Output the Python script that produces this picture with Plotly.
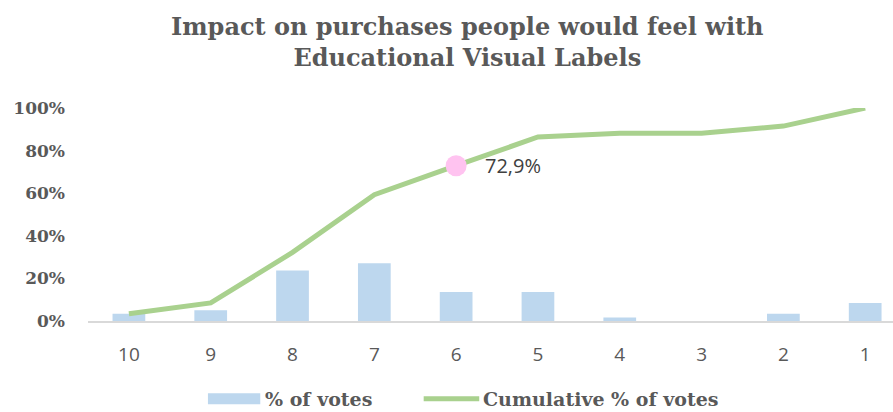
import plotly.graph_objects as go

# Survey scores (10 = strongest impact) and share of the 59 votes
scores = ["10", "9", "8", "7", "6", "5", "4", "3", "2", "1"]
pct_votes = [3.4, 5.1, 23.7, 27.1, 13.6, 13.6, 1.7, 0.0, 3.4, 8.5]
cum_pct_votes = [3.4, 8.5, 32.2, 59.3, 72.9, 86.4, 88.1, 88.1, 91.5, 100.0]
y_ticks = [0, 20, 40, 60, 80, 100]
y_tick_labels = ["0%", "20%", "40%", "60%", "80%", "100%"]
highlight_idx = 4
highlight_label = "72,9%"

SERIF = "DejaVu Serif"
SANS = "Open Sans"
GREY = "#595959"
BAR_COLOR = "#BDD7EE"
LINE_COLOR = "#A9D18E"

fig = go.Figure()
fig.add_trace(go.Bar(
    x=scores, y=pct_votes, name="% of votes",
    marker=dict(color=BAR_COLOR, line=dict(width=0)),
    width=0.4, showlegend=False,
))
fig.add_trace(go.Scatter(
    x=scores, y=cum_pct_votes, name="Cumulative % of votes",
    mode="lines", line=dict(color=LINE_COLOR, width=5),
    cliponaxis=False, showlegend=False,
))
fig.add_trace(go.Scatter(
    x=[scores[highlight_idx]], y=[cum_pct_votes[highlight_idx]],
    mode="markers", marker=dict(color="#FFC3F0", size=21),
    showlegend=False, cliponaxis=False,
))
# Data label next to the highlighted point (category axis: position by index)
fig.add_annotation(
    x=highlight_idx, y=cum_pct_votes[highlight_idx],
    text=highlight_label, showarrow=False,
    xanchor="left", yanchor="middle", xshift=27,
    font=dict(family=SANS, size=20, color="#404040"),
)

# Title
fig.add_annotation(
    xref="paper", yref="paper", x=0.4715, y=1.312,
    xanchor="center", yanchor="middle", showarrow=False,
    text="Impact on purchases people would feel with<br>Educational Visual Labels",
    font=dict(family=SERIF, size=24, color=GREY, weight="bold"),
)

# Legend drawn below the axis: wide bar swatch and line swatch
legend_y = -0.365
fig.add_shape(type="rect", xref="paper", yref="paper",
              x0=0.149, x1=0.214, y0=legend_y - 0.026, y1=legend_y + 0.026,
              fillcolor=BAR_COLOR, line=dict(width=0))
fig.add_annotation(xref="paper", yref="paper", x=0.219, y=legend_y,
                   xanchor="left", yanchor="middle", showarrow=False,
                   borderpad=0, text="% of votes",
                   font=dict(family=SERIF, size=19, color=GREY, weight="bold"))
fig.add_shape(type="line", xref="paper", yref="paper",
              x0=0.417, x1=0.486, y0=legend_y, y1=legend_y,
              line=dict(color=LINE_COLOR, width=5))
fig.add_annotation(xref="paper", yref="paper", x=0.489, y=legend_y,
                   xanchor="left", yanchor="middle", showarrow=False,
                   borderpad=0, text="Cumulative % of votes",
                   font=dict(family=SERIF, size=19, color=GREY, weight="bold"))

fig.update_layout(
    width=893, height=412,
    margin=dict(l=88, r=0, t=108, b=91, autoexpand=False),
    paper_bgcolor="white", plot_bgcolor="white",
    font=dict(family=SERIF, color=GREY),
    showlegend=False,
    xaxis=dict(
        type="category", range=[-0.5, 9.34],
        showline=True, linecolor="#D9D9D9", linewidth=2,
        ticks="", showgrid=False,
        tickfont=dict(family=SANS, size=19, color=GREY),
        ticklabelstandoff=15,
    ),
    yaxis=dict(
        range=[0, 100], tickvals=y_ticks, ticktext=y_tick_labels,
        showgrid=False, zeroline=False, showline=False,
        tickfont=dict(family=SERIF, size=17, color=GREY, weight="bold"),
        ticklabelstandoff=22,
    ),
)

fig.write_html("out.html")
